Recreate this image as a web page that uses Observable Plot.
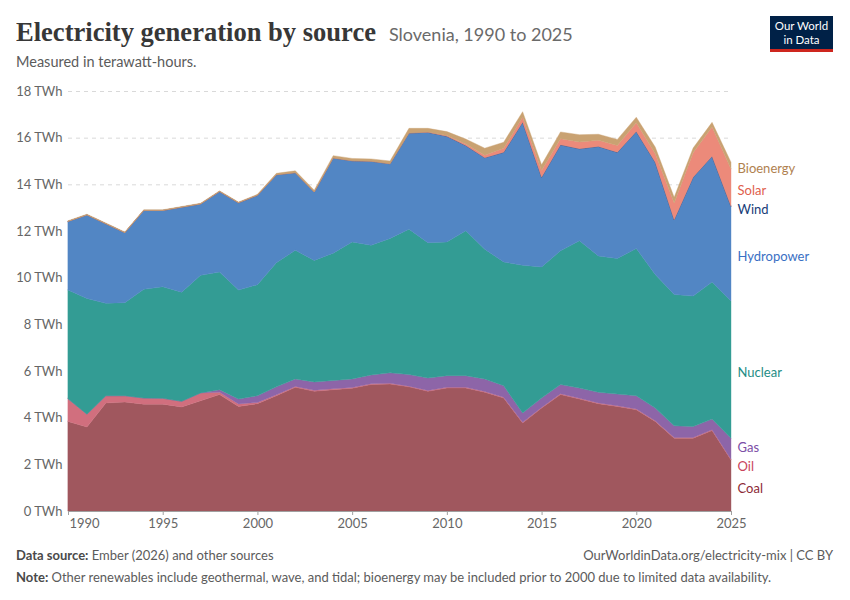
<!DOCTYPE html>
<html><head><meta charset="utf-8">
<script src="https://cdn.jsdelivr.net/npm/d3@7"></script>
<script src="https://cdn.jsdelivr.net/npm/@observablehq/plot@0.6"></script>
<style>
body{margin:0;background:#fff;font-family:Lato,"Noto Sans",sans-serif;}
#wrap{position:relative;width:850px;height:600px;overflow:hidden;}
#title{position:absolute;left:16px;top:17px;white-space:nowrap;}
#title .t{font-family:"Liberation Serif",serif;font-weight:bold;font-size:27px;color:#373737;display:inline-block;transform-origin:0 50%;}
#sub{position:absolute;left:389px;top:23px;font-size:18px;color:#6a6a6a;white-space:nowrap;}
#unit{position:absolute;left:16px;top:53px;font-size:14.5px;color:#5b5b5b;}
#logo{position:absolute;left:770px;top:16px;width:63px;background:#002147;border-bottom:3px solid #ce261e;color:#fff;font-size:11.5px;line-height:14px;text-align:center;padding-top:3px;height:30px;}
#chart{position:absolute;left:0;top:80px;}
.foot{position:absolute;font-size:13px;color:#5b5b5b;white-space:nowrap;}
.foot b{font-weight:bold;color:#4a4a4a;}
</style></head><body>
<div id="wrap">
<div id="title"><span class="t" id="tt">Electricity generation by source</span></div>
<div id="sub">Slovenia, 1990 to 2025</div>
<div id="unit">Measured in terawatt-hours.</div>
<div id="logo">Our World<br>in Data</div>
<div id="chart"></div>
<div class="foot" style="left:16px;top:547px;"><b>Data source:</b> Ember (2026) and other sources</div>
<div class="foot" style="right:17px;top:547px;">OurWorldinData.org/electricity-mix | CC BY</div>
<div class="foot" style="left:16px;top:569px;"><b>Note:</b> Other renewables include geothermal, wave, and tidal; bioenergy may be included prior to 2000 due to limited data availability.</div>
</div>
<script>
const years = d3.range(1990, 2026);
const coal = [3.84,3.60,4.63,4.67,4.58,4.58,4.46,4.73,4.99,4.48,
  4.60,4.94,5.30,5.13,5.20,5.26,5.42,5.44,5.32,5.13,
  5.27,5.27,5.09,4.84,3.77,4.41,4.99,4.80,4.60,4.48,
  4.34,3.84,3.12,3.12,3.45,2.19];
const oil = [0.97,0.55,0.31,0.27,0.26,0.25,0.24,0.33,0.10,0.11,
  0.05,0.04,0.04,0.04,0.04,0.03,0.03,0.03,0.03,0.03,
  0.03,0.03,0.03,0.03,0.03,0.03,0.03,0.03,0.03,0.03,
  0.03,0.03,0.03,0.03,0.03,0.03];
const gas = [0,0,0,0,0,0,0,0,0.11,0.21,
  0.29,0.34,0.32,0.36,0.35,0.37,0.38,0.45,0.50,0.54,
  0.50,0.50,0.54,0.50,0.40,0.40,0.40,0.44,0.46,0.50,
  0.57,0.54,0.50,0.47,0.46,0.90];
const nuclear = [4.66,4.96,3.96,3.99,4.66,4.78,4.68,5.04,5.04,4.67,
  4.76,5.32,5.51,5.21,5.46,5.87,5.56,5.76,6.23,5.80,
  5.73,6.21,5.56,5.30,6.33,5.62,5.73,6.31,5.84,5.81,
  6.31,5.73,5.63,5.59,5.87,5.88];
const hydro = [2.94,3.58,3.41,3.00,3.38,3.27,3.64,3.06,3.45,3.74,
  3.83,3.77,3.33,2.93,4.08,3.48,3.60,3.20,4.12,4.73,
  4.53,3.65,3.92,4.70,6.13,3.84,4.54,3.94,4.69,4.55,
  5.01,4.80,3.20,5.09,5.39,4.05];
const wind = [0,0,0,0,0,0,0,0,0,0,
  0,0,0,0,0,0,0,0,0,0,
  0,0,0,0.004,0.004,0.006,0.006,0.006,0.006,0.006,
  0.006,0.006,0.005,0.006,0.006,0.006];
const solar = [0,0,0,0,0,0,0,0,0,0,
  0,0,0,0,0,0,0,0,0,0.01,
  0.03,0.07,0.11,0.17,0.21,0.29,0.26,0.29,0.26,0.29,
  0.37,0.36,0.72,1.05,1.25,1.60];
const bioenergy = [0.03,0.03,0.03,0.03,0.03,0.03,0.03,0.03,0.03,0.03,
  0.04,0.06,0.08,0.08,0.10,0.10,0.10,0.12,0.20,0.16,
  0.17,0.21,0.30,0.26,0.24,0.24,0.29,0.31,0.26,0.26,
  0.24,0.29,0.24,0.20,0.20,0.29];

const sources = ["Coal","Oil","Gas","Nuclear","Hydropower","Wind","Solar","Bioenergy"];
const series = [coal, oil, gas, nuclear, hydro, wind, solar, bioenergy];
const fills = ["#a0575e","#d16f7e","#8d65a8","#339c94","#5286c4","#243e7a","#ec8a7a","#c9a272"];
const labelColors = ["#8c2a36","#c9445c","#7b4ea6","#1e8d85","#3a70c4","#163c78","#e0604d","#b0814f"];
const yTicks = [0,2,4,6,8,10,12,14,16,18];
const xTicks = [1990,1995,2000,2005,2010,2015,2020,2025];

const rows = [];
sources.forEach((s, i) => years.forEach((y, j) => rows.push({source: s, year: y, value: series[i][j]})));

// end labels: midpoint of last stacked band, relaxed to avoid overlaps
const last = years.length - 1;
let cum = 0;
const labels = sources.map((s, i) => {
  const v = series[i][last];
  const mid = cum + v / 2;
  cum += v;
  return {source: s, year: years[last], y: mid, color: labelColors[i]};
});
const minGap = 0.8;
for (let it = 0; it < 200; it++) {
  for (let k = 1; k < labels.length; k++) {
    const a = labels[k-1], b = labels[k];
    const d = b.y - a.y;
    if (d < minGap) { const p = (minGap - d) / 2; a.y -= p; b.y += p; }
  }
}

const chart = Plot.plot({
  width: 850, height: 460,
  marginTop: 11, marginBottom: 29, marginLeft: 68, marginRight: 119,
  x: {domain: [1990, 2025], label: null},
  y: {domain: [0, 18], label: null},
  color: {domain: sources, range: fills},
  style: {fontFamily: "Lato, sans-serif", fontSize: "13px", color: "#666", background: "transparent", overflow: "visible"},
  marks: [
    Plot.gridY(yTicks.filter(d => d > 0), {stroke: "#d9d9d9", strokeOpacity: 1, strokeDasharray: "4,4"}),
    Plot.areaY(rows, {x: "year", y: "value", z: "source", fill: "source", order: sources, stroke: "source", strokeWidth: 0.4, fillOpacity: 1}),
    Plot.ruleY([0], {stroke: "#a0a0a0"}),
    Plot.axisY(yTicks, {tickSize: 0, tickPadding: 6, tickFormat: d => d + " TWh", fill: "#666", fontSize: 13, label: null}),
    Plot.axisX(xTicks, {tickSize: 4, tickPadding: 3, stroke: "#a0a0a0", tickFormat: d => d === 1990 ? "" : String(d), fill: "#666", fontSize: 13, label: null}),
    Plot.text([1990], {x: d => d, frameAnchor: "bottom", textAnchor: "start", lineAnchor: "top", dy: 7, dx: 1, text: d => String(d), fill: "#666", fontSize: 13}),
    Plot.text(labels, {x: "year", y: "y", text: "source", fill: "color", textAnchor: "start", dx: 6, dy: 3, fontSize: 13})
  ]
});
document.getElementById("chart").appendChild(chart);

// fit title to reference width
const tt = document.getElementById("tt");
const w = tt.getBoundingClientRect().width;
tt.style.transform = `scaleX(${360 / w})`;
</script>
</body></html>
